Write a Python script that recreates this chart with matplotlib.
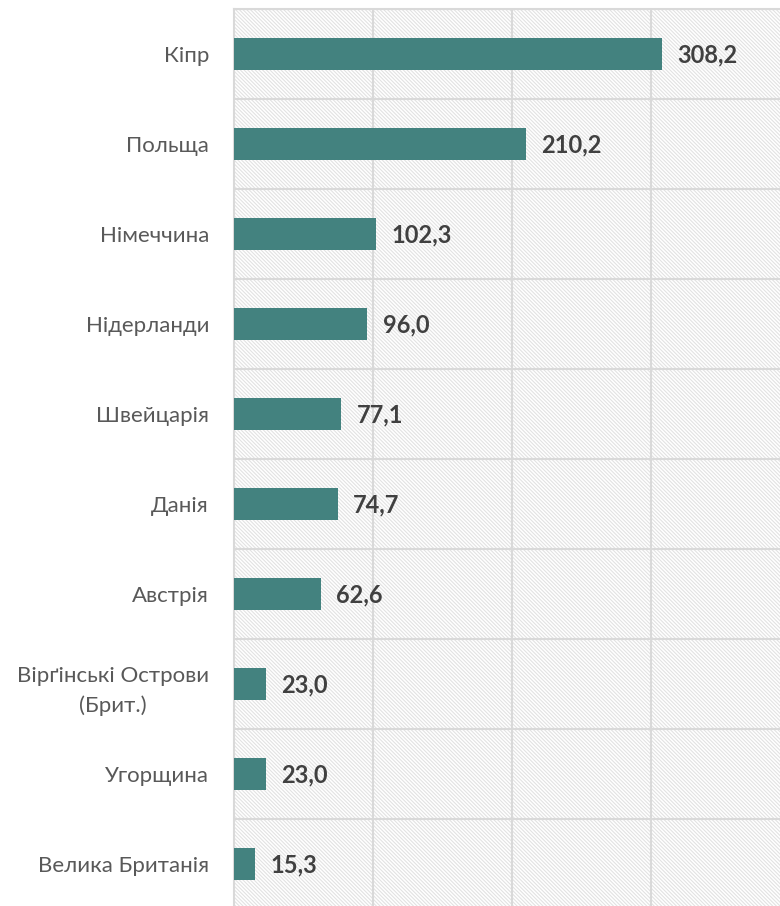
import numpy as np
import matplotlib.pyplot as plt
from matplotlib.patches import Rectangle

countries = ['Кіпр', 'Польща', 'Німеччина', 'Нідерланди', 'Швейцарія', 'Данія',
             'Австрія', 'Вірґінські Острови\n(Брит.)', 'Угорщина', 'Велика Британія']
values = [308.2, 210.2, 102.3, 96.0, 77.1, 74.7, 62.6, 23.0, 23.0, 15.3]
value_labels = ['308,2', '210,2', '102,3', '96,0', '77,1', '74,7', '62,6', '23,0', '23,0', '15,3']

plt.rcParams['font.family'] = ['Lato', 'DejaVu Sans']
plt.rcParams['hatch.linewidth'] = 0.8

fig = plt.figure(figsize=(7.8, 9.06), dpi=100)
ax = fig.add_axes([234/780, -3/906, 1 - 234/780, 900/906])

n = len(countries)
y = np.arange(n)

# hatched background
ax.add_patch(Rectangle((0, 0), 1, 1, transform=ax.transAxes, facecolor='white',
                       edgecolor='#e2e2e2', hatch='\\' * 9, linewidth=0, zorder=0))

ax.barh(y, values, height=0.35, color='#43827f', zorder=3)

for yi, v, lab in zip(y, values, value_labels):
    ax.annotate(lab, (v, yi), xytext=(11, -1), textcoords='offset points',
                va='center', ha='left', fontsize=17, fontweight='bold', color='#404040')

ax.set_xlim(0, 393)
ax.set_ylim(n - 0.5, -0.5)

ax.set_xticks([100, 200, 300])
ax.set_yticks(y)
ax.set_yticklabels(countries, fontsize=16, color='#595959', linespacing=1.6)
ax.set_yticks(np.arange(n + 1) - 0.5, minor=True)
ax.tick_params(axis='both', which='both', length=0)
ax.tick_params(axis='y', pad=18)
ax.tick_params(axis='x', labelbottom=False)
for t in ax.get_yticklabels():
    t.set_horizontalalignment('right')
    t.set_multialignment('center')

ax.grid(axis='x', which='major', color='#d9d9d9', linewidth=1.5, zorder=1)
ax.grid(axis='y', which='minor', color='#d9d9d9', linewidth=1.5, zorder=1)
ax.set_axisbelow(True)

for s in ['right', 'bottom']:
    ax.spines[s].set_visible(False)
for s in ['left', 'top']:
    ax.spines[s].set_color('#d9d9d9')
    ax.spines[s].set_linewidth(1.5)

fig.savefig('out.png', dpi=100)
